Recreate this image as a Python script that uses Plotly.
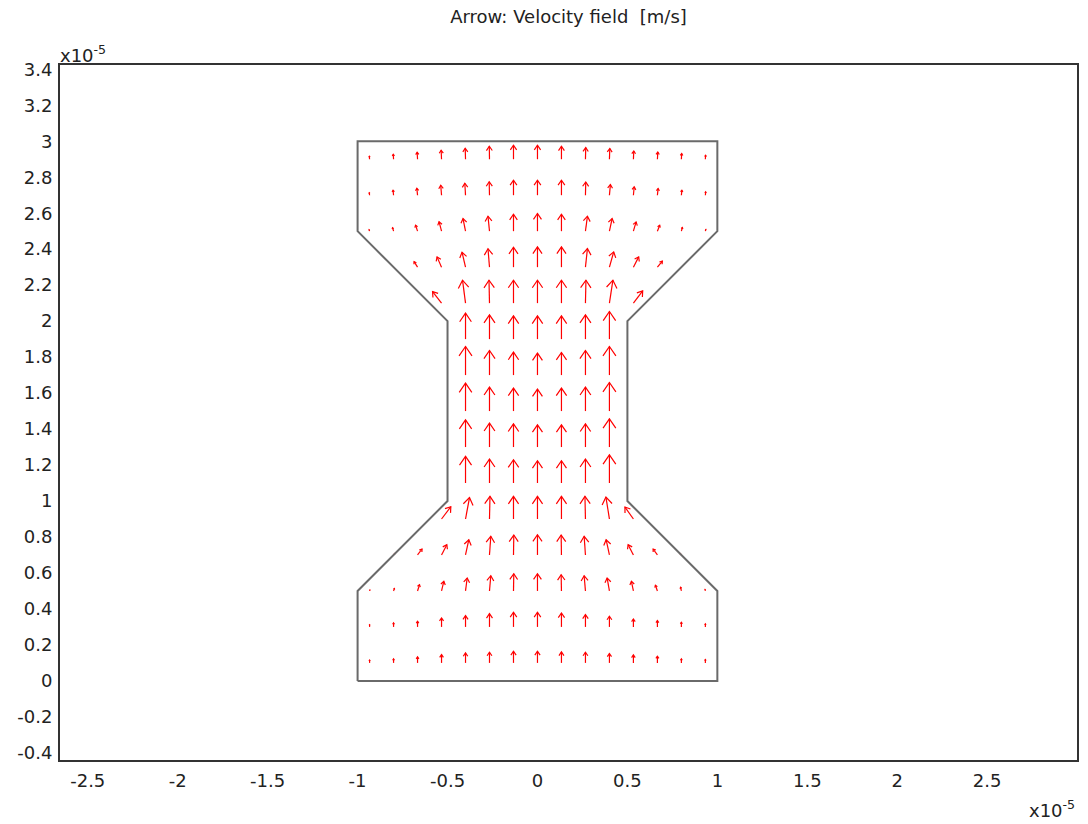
import plotly.graph_objects as go
import plotly.figure_factory as ff

N = None

# Sample positions of the arrow grid (units of 1e-5 m)
GRID_X = [-0.9333, -0.8, -0.6667, -0.5333, -0.4, -0.2667, -0.1333, 0.0,
          0.1333, 0.2667, 0.4, 0.5333, 0.6667, 0.8, 0.9333]
GRID_Y = [0.1, 0.3, 0.5, 0.7, 0.9, 1.1, 1.3, 1.5, 1.7, 1.9, 2.1, 2.3, 2.5, 2.7, 2.9]

# Horizontal velocity component per row (bottom row first); None = outside the channel
U_ROWS = [
    [0, 0, 0, 0, 0, 0, 0, 0, 0, 0, 0, 0, 0, 0, 0],
    [0, 0, 0, 0, 0, 0, 0, 0, 0, 0, 0, 0, 0, 0, 0],
    [0.3, 0.8, 2.0, 2.3, 1.7, 1.3, 0.3, 0.0, -0.3, -1.3, -2.3, -2.0, -2.0, -0.8, -0.3],
    [N, 1.3, 4.5, 5.3, 3.3, 1.3, 0.3, 0.0, -0.3, -1.3, -3.3, -5.3, -4.3, -1.3, N],
    [N, N, N, 9.3, 4.0, 0.5, 0.0, 0.0, 0.0, -0.5, -3.5, -8.5, N, N, N],
    [N, N, N, N, 0.0, 0.0, 0.0, 0.0, 0.0, 0.0, 0.0, N, N, N, N],
    [N, N, N, N, 0.0, 0.0, 0.0, 0.0, 0.0, 0.0, 0.0, N, N, N, N],
    [N, N, N, N, 0.0, 0.0, 0.0, 0.0, 0.0, 0.0, 0.0, N, N, N, N],
    [N, N, N, N, 0.0, 0.0, 0.0, 0.0, 0.0, 0.0, 0.0, N, N, N, N],
    [N, N, N, N, 0.0, 0.0, 0.0, 0.0, 0.0, 0.0, 0.0, N, N, N, N],
    [N, N, N, -9.0, -3.0, -0.5, 0.0, 0.0, 0.0, 0.5, 3.5, 9.3, N, N, N],
    [N, N, -3.5, -4.5, -3.5, -1.5, 0.0, 0.0, 0.0, 2.0, 4.3, 5.3, 5.0, N, N],
    [-0.5, -1.0, -2.0, -2.5, -2.5, -1.5, 0.0, 0.0, 0.0, 2.0, 2.7, 2.7, 2.3, 1.0, 0.5],
    [-0.3, -0.5, -0.7, -0.8, -0.7, -0.3, 0.0, 0.0, 0.0, 0.3, 1.0, 0.8, 0.7, 0.5, 0.3],
    [-0.2, -0.3, -0.4, -0.4, -0.3, -0.2, 0.0, 0.0, 0.0, 0.3, 0.4, 0.4, 0.4, 0.3, 0.2],
]

# Vertical velocity component per row (bottom row first)
V_ROWS = [
    [2.8, 4.0, 6.0, 8.3, 10.0, 10.7, 11.7, 11.7, 11.0, 10.7, 9.3, 8.0, 6.7, 4.0, 3.3],
    [2.2, 4.0, 5.7, 9.0, 11.3, 13.3, 14.7, 14.7, 14.0, 12.3, 10.7, 8.0, 6.3, 4.7, 3.0],
    [1.0, 2.5, 6.3, 9.7, 13.0, 15.3, 17.3, 17.3, 16.3, 15.3, 13.0, 9.7, 5.7, 3.7, 1.5],
    [N, 1.5, 6.0, 10.3, 15.3, 18.7, 20.0, 20.3, 20.0, 18.7, 15.3, 10.3, 6.0, 1.5, N],
    [N, N, N, 12.3, 21.5, 22.7, 22.7, 22.7, 22.7, 22.7, 22.0, 12.0, N, N, N],
    [N, N, N, N, 26.7, 24.0, 23.3, 22.3, 22.3, 24.0, 28.3, N, N, N, N],
    [N, N, N, N, 27.3, 24.0, 23.3, 22.3, 22.3, 23.3, 28.3, N, N, N, N],
    [N, N, N, N, 28.0, 24.0, 23.0, 22.0, 23.0, 24.0, 28.7, N, N, N, N],
    [N, N, N, N, 28.7, 24.7, 23.0, 22.0, 22.7, 24.7, 28.7, N, N, N, N],
    [N, N, N, N, 26.0, 24.3, 23.3, 23.3, 23.3, 24.3, 27.7, N, N, N, N],
    [N, N, N, 11.5, 23.0, 23.0, 23.0, 23.0, 23.0, 23.0, 23.0, 12.3, N, N, N],
    [N, N, 5.5, 10.3, 15.0, 18.5, 20.0, 20.3, 20.3, 18.7, 15.3, 10.3, 6.0, N, N],
    [1.5, 3.5, 6.0, 9.5, 12.7, 15.0, 17.0, 17.7, 17.0, 15.0, 12.7, 9.3, 6.0, 3.7, 1.7],
    [2.5, 5.0, 7.0, 10.0, 12.0, 13.5, 15.0, 15.0, 15.0, 13.3, 10.7, 8.3, 6.7, 5.0, 3.3],
    [3.0, 5.0, 7.0, 9.0, 11.0, 13.0, 14.0, 14.0, 13.0, 11.7, 10.7, 8.3, 7.3, 5.7, 4.0],
]

# Channel outline (units of 1e-5 m)
WALL_X = [-1, 1, 1, 0.5, 0.5, 1, 1, -1, -1, -0.5, -0.5, -1, -1]
WALL_Y = [0, 0, 0.5, 1, 2, 2.5, 3, 3, 2.5, 2, 1, 0.5, 0]

X_TICKS = [-2.5, -2, -1.5, -1, -0.5, 0, 0.5, 1, 1.5, 2, 2.5]
X_TICK_LABELS = ["-2.5", "-2", "-1.5", "-1", "-0.5", "0", "0.5", "1", "1.5", "2", "2.5"]
Y_TICKS = [-0.4, -0.2, 0, 0.2, 0.4, 0.6, 0.8, 1, 1.2, 1.4, 1.6, 1.8, 2, 2.2, 2.4,
           2.6, 2.8, 3, 3.2, 3.4]
Y_TICK_LABELS = ["-0.4", "-0.2", "0", "0.2", "0.4", "0.6", "0.8", "1", "1.2", "1.4",
                 "1.6", "1.8", "2", "2.2", "2.4", "2.6", "2.8", "3", "3.2", "3.4"]

ARROW_SCALE = 1 / 180.4  # axis units per velocity unit
FONT = dict(family="DejaVu Sans", size=18, color="#222222")

xs, ys, us, vs = [], [], [], []
for j, yv in enumerate(GRID_Y):
    for i, xv in enumerate(GRID_X):
        if U_ROWS[j][i] is None or V_ROWS[j][i] is None:
            continue
        xs.append(xv)
        ys.append(yv)
        us.append(U_ROWS[j][i])
        vs.append(V_ROWS[j][i])

fig = ff.create_quiver(xs, ys, us, vs, scale=ARROW_SCALE, arrow_scale=0.4,
                       angle=0.6, scaleratio=1,
                       line=dict(color="rgb(255,0,0)", width=1.2),
                       hoverinfo="skip")

fig.add_trace(go.Scatter(x=WALL_X, y=WALL_Y, mode="lines",
                         line=dict(color="#6a6a6a", width=2), hoverinfo="skip"))

axis_common = dict(showgrid=False, zeroline=False, showline=True, mirror=True,
                   linecolor="#333333", linewidth=2, ticks="", tickfont=FONT)

fig.update_layout(
    width=1088, height=824,
    margin=dict(l=60, r=9, t=65, b=64),
    paper_bgcolor="white", plot_bgcolor="white",
    showlegend=False,
    font=FONT,
    title=dict(text="Arrow: Velocity field\u00a0 [m/s]", x=0.5, xref="paper",
               xanchor="center", y=1 - 17 / 824, yref="container", yanchor="middle",
               font=FONT),
    xaxis=dict(range=[-2.648, 2.993], tickvals=X_TICKS, ticktext=X_TICK_LABELS,
               ticklabelstandoff=3, **axis_common),
    yaxis=dict(range=[-0.436, 3.42], tickvals=Y_TICKS, ticktext=Y_TICK_LABELS,
               ticklabelstandoff=2, **axis_common),
    annotations=[
        dict(text="x10<sup>-5</sup>", xref="paper", yref="paper", x=0, y=1,
             xanchor="left", yanchor="bottom", showarrow=False, xshift=-2, yshift=-3,
             font=FONT),
        dict(text="x10<sup>-5</sup>", xref="paper", yref="paper", x=1, y=0,
             xanchor="right", yanchor="top", showarrow=False, xshift=0, yshift=-35,
             font=FONT),
    ],
)

fig.write_html("out.html")
